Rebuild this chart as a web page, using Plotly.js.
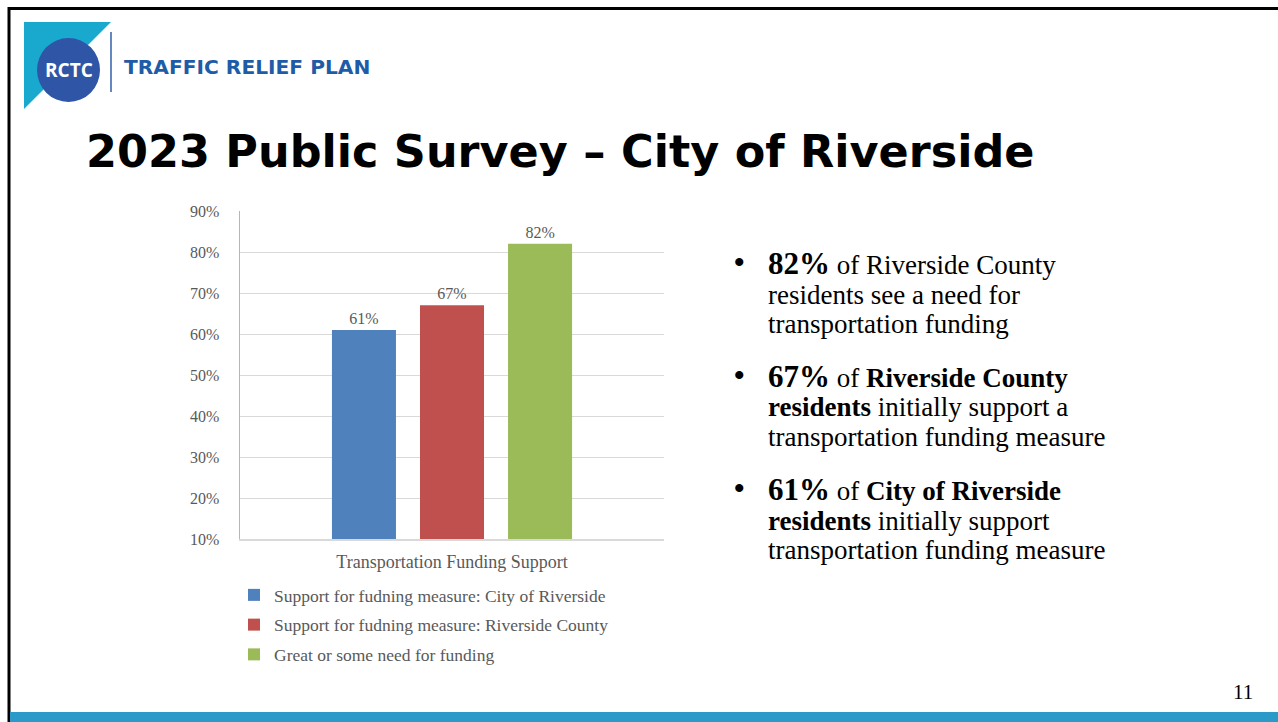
<!DOCTYPE html>
<html>
<head>
<meta charset="utf-8">
<script src="https://cdn.plot.ly/plotly-3.0.1.min.js"></script>
<style>
  html, body { margin: 0; padding: 0; background: #ffffff; }
  #chart { width: 1278px; height: 722px; }
</style>
</head>
<body>
<div id="chart"></div>
<script>
// ---- Data ----
const categories = ['Transportation Funding Support'];
const seriesNames = [
  'Support for fudning measure: City of Riverside',
  'Support for fudning measure: Riverside County',
  'Great or some need for funding'
];
const cityOfRiverside = [61];
const riversideCounty = [67];
const needForFunding = [82];
const seriesValues = [cityOfRiverside, riversideCounty, needForFunding];
const seriesColors = ['#4f81bd', '#c0504d', '#9bbb59'];
const yTickValues = [10, 20, 30, 40, 50, 60, 70, 80, 90];
const yTickLabels = ['10%', '20%', '30%', '40%', '50%', '60%', '70%', '80%', '90%'];

// ---- Layout helpers ----
const W = 1278, H = 722;
const px = x => x / W;
const py = y => 1 - y / H;
const SERIF = '"Liberation Serif", "Times New Roman", serif';
const GREY = '#595959';

const traces = seriesNames.map((name, i) => ({
  type: 'bar',
  name: name,
  x: categories,
  y: seriesValues[i],
  marker: { color: seriesColors[i] },
  text: seriesValues[i].map(v => v + '%'),
  textposition: 'outside',
  textfont: { family: SERIF, size: 16, color: GREY },
  cliponaxis: false,
  legendgroup: 'g' + i,
  hoverinfo: 'skip'
}));

const shapes = [
  // slide frame
  { type: 'line', xref: 'paper', yref: 'paper', x0: px(8), x1: 1, y0: py(8.5), y1: py(8.5), line: { color: '#000', width: 3 } },
  { type: 'line', xref: 'paper', yref: 'paper', x0: px(9), x1: px(9), y0: py(7), y1: 0, line: { color: '#000', width: 3 } },
  // bottom band
  { type: 'rect', xref: 'paper', yref: 'paper', x0: px(10), x1: 1, y0: 0, y1: py(712), fillcolor: '#2b9ac8', line: { width: 0 } },
  // logo triangle
  { type: 'path', xref: 'paper', yref: 'paper',
    path: `M ${px(24)} ${py(22)} L ${px(111)} ${py(22)} L ${px(24)} ${py(109)} Z`,
    fillcolor: '#19a9cf', line: { width: 0 } },
  // logo circle
  { type: 'circle', xref: 'paper', yref: 'paper', x0: px(37), x1: px(100), y0: py(102), y1: py(38),
    fillcolor: '#2f56a6', line: { width: 0 } },
  // divider
  { type: 'line', xref: 'paper', yref: 'paper', x0: px(111), x1: px(111), y0: py(32), y1: py(92), line: { color: '#2f5fa8', width: 1.5 } }
];

const ann = [];
function text(x, y, t, font, xanchor) {
  ann.push({ xref: 'paper', yref: 'paper', x: px(x), y: py(y), text: t, showarrow: false,
    xanchor: xanchor || 'left', yanchor: 'middle', font: font, align: 'left' });
}
text(68.5, 70, '<b>RCTC</b>', { family: '"Open Sans", sans-serif', size: 19, color: '#ffffff' }, 'center');
text(122, 67, '<b>TRAFFIC RELIEF PLAN</b>', { family: '"DejaVu Sans", sans-serif', size: 20.2, color: '#1f5ca7' });
text(84, 151, '<b>2023 Public Survey – City of Riverside</b>', { family: '"DejaVu Sans", sans-serif', size: 44.5, color: '#000000' });

const bodyFont = { family: SERIF, size: 27, color: '#000000' };
const big = s => `<b><span style="font-size:31px">${s}</span></b>`;
const bulletLines = [
  [263, big('82%') + ' of Riverside County'],
  [295, 'residents see a need for'],
  [324, 'transportation funding'],
  [376, big('67%') + ' of <b>Riverside County</b>'],
  [407, '<b>residents</b> initially support a'],
  [437, 'transportation funding measure'],
  [489, big('61%') + ' of <b>City of Riverside</b>'],
  [521, '<b>residents</b> initially support'],
  [550, 'transportation funding measure']
];
bulletLines.forEach(([y, t]) => text(766, y, t, bodyFont));
[261, 374, 487].forEach(y => text(739, y, '<b>•</b>', { family: SERIF, size: 30, color: '#000' }, 'center'));
text(1243, 692, '11', { family: SERIF, size: 21, color: '#000' }, 'center');

const layout = {
  width: W, height: H,
  margin: { l: 0, r: 0, t: 0, b: 0 },
  paper_bgcolor: '#ffffff',
  plot_bgcolor: '#ffffff',
  barmode: 'group',
  bargap: 0.377,
  bargroupgap: 0.273,
  showlegend: true,
  legend: {
    x: px(234), y: py(577), xanchor: 'left', yanchor: 'top',
    orientation: 'v', tracegroupgap: 4,
    font: { family: SERIF, size: 17.5, color: GREY },
    bgcolor: 'rgba(0,0,0,0)'
  },
  xaxis: {
    domain: [px(240), px(664)],
    showgrid: false,
    showline: true, linecolor: '#d9d9d9', linewidth: 2,
    ticks: '', ticklabelstandoff: 5,
    tickfont: { family: SERIF, size: 18, color: GREY },
    fixedrange: true
  },
  yaxis: {
    domain: [py(539), py(211)],
    range: [10, 90],
    tickvals: yTickValues, ticktext: yTickLabels,
    showgrid: true, gridcolor: '#d9d9d9', gridwidth: 1,
    showline: true, linecolor: '#9dbbe0', linewidth: 1.5,
    zeroline: false, ticks: '', ticklabelstandoff: 16,
    tickfont: { family: SERIF, size: 16, color: GREY },
    fixedrange: true
  },
  shapes: shapes,
  annotations: ann
};

Plotly.newPlot('chart', traces, layout, { displayModeBar: false, staticPlot: true });
</script>
</body>
</html>
